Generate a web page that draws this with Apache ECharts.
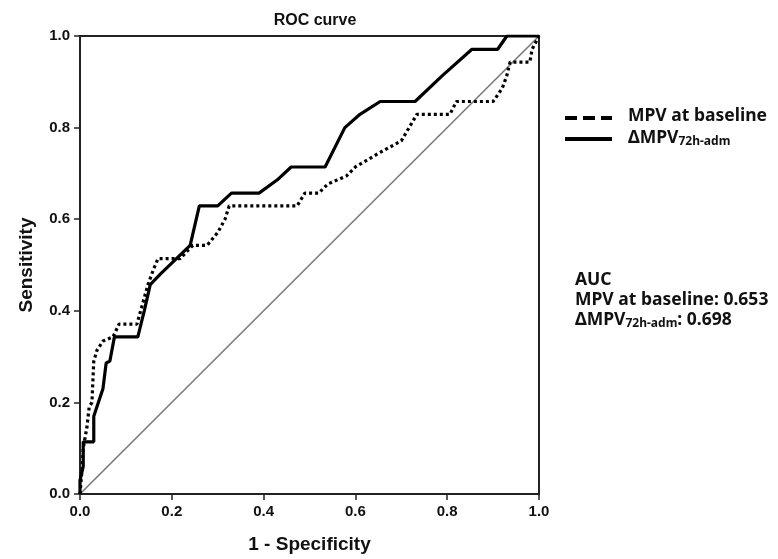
<!DOCTYPE html>
<html>
<head>
<meta charset="utf-8">
<script src="https://cdn.jsdelivr.net/npm/echarts@6/dist/echarts.min.js"></script>
<style>html,body{margin:0;padding:0;background:#fff}#c{width:778px;height:559px}</style>
</head>
<body>
<div id="c"></div>
<script>
// ---- data ----
var xTicks = [0, 0.2, 0.4, 0.6, 0.8, 1.0];
var seriesNames = ['MPV at baseline', 'ΔMPV72h-adm'];
var aucValues = [0.653, 0.698];
var mpvBaseline = [
  [0,0],[0.005,0.06],[0.007,0.1],[0.015,0.145],[0.02,0.19],[0.026,0.2],[0.03,0.29],
  [0.037,0.314],[0.05,0.334],[0.072,0.343],[0.085,0.371],[0.124,0.371],[0.148,0.457],
  [0.16,0.49],[0.17,0.514],[0.218,0.514],[0.246,0.543],[0.277,0.543],[0.3,0.571],
  [0.316,0.6],[0.325,0.629],[0.473,0.629],[0.49,0.657],[0.52,0.657],[0.54,0.677],
  [0.58,0.694],[0.6,0.714],[0.654,0.746],[0.7,0.771],[0.734,0.829],[0.806,0.829],
  [0.82,0.857],[0.9,0.857],[0.92,0.886],[0.93,0.914],[0.937,0.943],[0.98,0.943],
  [0.985,0.971],[1,1]
];
var deltaMpv = [
  [0,0],[0,0.03],[0.007,0.06],[0.007,0.114],[0.03,0.114],[0.03,0.17],[0.04,0.2],
  [0.05,0.23],[0.057,0.286],[0.065,0.29],[0.075,0.343],[0.126,0.343],[0.14,0.4],
  [0.153,0.457],[0.175,0.48],[0.24,0.543],[0.26,0.629],[0.3,0.629],[0.33,0.657],
  [0.39,0.657],[0.43,0.686],[0.46,0.714],[0.534,0.714],[0.577,0.8],[0.61,0.829],
  [0.654,0.857],[0.73,0.857],[0.79,0.914],[0.854,0.971],[0.91,0.971],[0.93,1.0],[1,1]
];
var refLine = [[0,0],[1,1]];

var chart = echarts.init(document.getElementById('c'));
var tickFont = {fontFamily:'Liberation Sans, Arial', fontWeight:'bold', fontSize:15, color:'#111'};
var txtFont = 'Noto Sans, Open Sans, sans-serif';
var richStyles = {
  b:{fontFamily:txtFont, fontWeight:'bold', fontSize:17.5, fill:'#111', lineHeight:20},
  s:{fontFamily:txtFont, fontWeight:'bold', fontSize:12, fill:'#111', lineHeight:20, padding:[8,0,0,0]}
};
chart.setOption({
  animation:false,
  backgroundColor:'#fff',
  title:{text:'ROC curve', left:310, textAlign:'center', top:8,
    textStyle:{fontFamily:'Liberation Sans, Arial', fontWeight:'bold', fontSize:16, color:'#111'}},
  grid:{left:80, right:239, top:36, bottom:62, show:true, borderColor:'#222', borderWidth:2, backgroundColor:'transparent'},
  xAxis:{type:'value', min:0, max:1, interval:0.2,
    name:'1 - Specificity', nameLocation:'middle', nameGap:41,
    nameTextStyle:{fontFamily:'Liberation Sans, Arial', fontWeight:'bold', fontSize:19, color:'#111'},
    axisLine:{lineStyle:{color:'#222', width:2}},
    axisTick:{length:6, lineStyle:{color:'#222', width:1.5}},
    axisLabel:Object.assign({margin:10, formatter:function(v){return v.toFixed(1);}}, tickFont),
    splitLine:{show:false}
  },
  yAxis:{type:'value', min:0, max:1, interval:0.2,
    name:'Sensitivity', nameLocation:'middle', nameGap:44,
    nameTextStyle:{fontFamily:'Liberation Sans, Arial', fontWeight:'bold', fontSize:19, color:'#111'},
    axisLine:{show:true, lineStyle:{color:'#222', width:2}},
    axisTick:{show:true, length:6, lineStyle:{color:'#222', width:1.5}},
    axisLabel:Object.assign({margin:10, formatter:function(v){return v.toFixed(1);}}, tickFont),
    splitLine:{show:false}
  },
  series:[
    {name:'ref', type:'line', data:refLine, showSymbol:false, symbol:'none', silent:true,
      lineStyle:{color:'#7a7a7a', width:1.6}, z:1},
    {name:seriesNames[0], type:'line', data:mpvBaseline, showSymbol:false, symbol:'none',
      lineStyle:{color:'#000', width:3.2, type:[3,3]}, z:2},
    {name:seriesNames[1], type:'line', data:deltaMpv, showSymbol:false, symbol:'none',
      lineStyle:{color:'#000', width:3.2, type:'solid'}, z:3}
  ],
  graphic:[
    {type:'line', shape:{x1:565, y1:118, x2:612, y2:118}, style:{stroke:'#000', lineWidth:4, lineDash:[12,6]}},
    {type:'line', shape:{x1:565, y1:139, x2:612, y2:139}, style:{stroke:'#000', lineWidth:4}},
    {type:'text', left:628, top:107, style:{text:'{b|'+seriesNames[0]+'}', rich:richStyles}},
    {type:'text', left:628, top:128, style:{text:'{b|ΔMPV}{s|72h-adm}', rich:richStyles}},
    {type:'text', left:575, top:271, style:{
      text:'{b|AUC}\n{b|'+seriesNames[0]+': '+aucValues[0].toFixed(3)+'}\n{b|ΔMPV}{s|72h-adm}{b|: '+aucValues[1].toFixed(3)+'}',
      rich:richStyles
    }}
  ]
});
</script>
</body>
</html>
